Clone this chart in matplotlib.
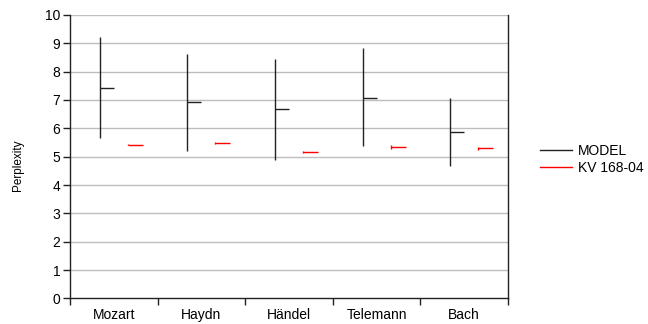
import numpy as np
import matplotlib
matplotlib.use("Agg")
import matplotlib.pyplot as plt
from matplotlib.lines import Line2D

plt.rcParams["font.family"] = ["Liberation Sans", "DejaVu Sans"]

# Data
composers = ["Mozart", "Haydn", "Händel", "Telemann", "Bach"]
model_high = [9.23, 8.62, 8.44, 8.82, 7.08]
model_low = [5.65, 5.21, 4.89, 5.37, 4.67]
model_close = [7.43, 6.92, 6.67, 7.08, 5.87]
kv_high = [5.43, 5.51, 5.20, 5.40, 5.35]
kv_low = [5.41, 5.44, 5.14, 5.26, 5.22]
kv_close = [5.42, 5.48, 5.17, 5.34, 5.29]
yticks = list(range(0, 11))

# Plot
fig = plt.figure(figsize=(6.48, 3.24), dpi=100)
ax = fig.add_axes([0.108, 0.079, 0.676, 0.875])

x = np.arange(len(composers))
xm = x + 0.34
xk = x + 0.66

for v in yticks[1:]:
    ax.axhline(v, color="#bdbdbd", lw=1.0, zorder=0)

ax.vlines(xm, model_low, model_high, color="#222222", lw=1.0)
ax.hlines(model_close, xm, xm + 0.16, color="#222222", lw=1.0)
ax.vlines(xk, kv_low, kv_high, color="#ff0000", lw=1.0)
ax.hlines(kv_close, xk, xk + 0.17, color="#ff0000", lw=1.0)

ax.set_xlim(0, len(composers))
ax.set_ylim(0, 10)
ax.set_yticks(yticks)
ax.set_xticks(np.arange(len(composers) + 1))
ax.set_xticklabels([])
ax.set_xticks(x + 0.5, minor=True)
ax.set_xticklabels(composers, minor=True)
ax.tick_params(axis="x", which="minor", length=0, labelsize=10, pad=7)
ax.tick_params(axis="x", which="major", length=5, width=1, color="#222222")
ax.tick_params(axis="y", length=5, width=1, labelsize=10, color="#222222", pad=2)
ax.spines["top"].set_visible(False)
for s in ["left", "bottom", "right"]:
    ax.spines[s].set_color("#222222")
    ax.spines[s].set_linewidth(1.0)

fig.text(0.028, 0.49, "Perplexity", rotation=90, fontsize=8.5, va="center", ha="center")

handles = [Line2D([0], [0], color="#222222", lw=1.0),
           Line2D([0], [0], color="#ff0000", lw=1.0)]
fig.legend(handles, ["MODEL", "KV 168-04"], loc="center left",
           bbox_to_anchor=(0.822, 0.508), frameon=False, fontsize=10,
           borderpad=0, handlelength=2.3, handletextpad=0.45, labelspacing=0.25)

fig.savefig("out.png", dpi=100)
